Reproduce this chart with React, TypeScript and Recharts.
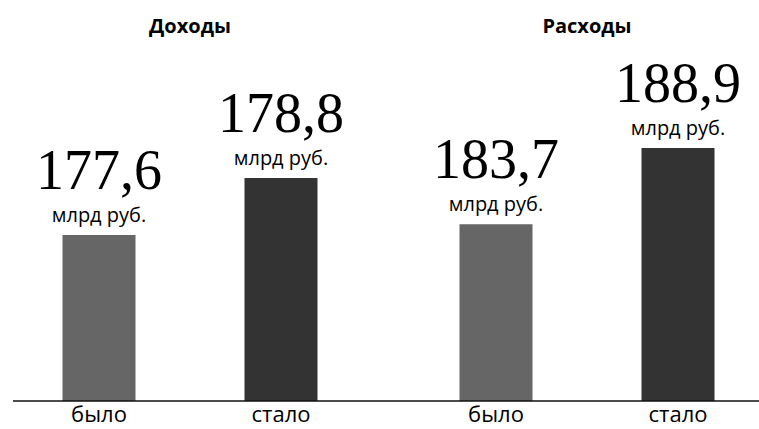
import React from 'react';
import { BarChart, Bar, XAxis, YAxis, LabelList, ReferenceLine } from 'recharts';

// Categories (group titles)
const categories = ['Доходы', 'Расходы'];
// Series names (labels under the bars)
const seriesNames = ['было', 'стало'];
// Values printed above the bars, billion rubles
const beforeValues = [177.6, 183.7];
const afterValues = [178.8, 188.9];
// Bar heights as drawn in the picture (infographic, not to value scale), 0–100 scale
const beforeBarLevel = [47.0, 50.1];
const afterBarLevel = [63.2, 71.7];
const unitLabel = 'млрд руб.';

const data = categories.map((c, i) => ({
  name: c,
  before: beforeBarLevel[i],
  after: afterBarLevel[i],
}));

const fmt = (v: number) => v.toFixed(1).replace('.', ',');

const makeLabel = (values: number[], seriesName: string) => (props: any) => {
  const { x, y, width, height, index } = props;
  const cx = Number(x) + Number(width) / 2;
  const top = Number(y);
  const bottom = Number(y) + Number(height);
  return (
    <g>
      <text
        x={cx}
        y={top - 46}
        textAnchor="middle"
        fontFamily="'Liberation Serif', 'DejaVu Serif', serif"
        fontSize={56}
        fill="#000"
      >
        {fmt(values[index])}
      </text>
      <text
        x={cx}
        y={top - 13}
        textAnchor="middle"
        fontFamily="'Open Sans', sans-serif"
        fontSize={20}
        fill="#000"
      >
        {unitLabel}
      </text>
      <text
        x={cx}
        y={bottom + 21}
        textAnchor="middle"
        fontFamily="'Open Sans', sans-serif"
        fontSize={22}
        fill="#000"
      >
        {seriesName}
      </text>
    </g>
  );
};

export default function App() {
  return (
    <div style={{ position: 'absolute', left: 0, top: 0, width: 759, height: 429, background: '#fff', overflow: 'hidden' }}>
      <BarChart
        width={759}
        height={429}
        data={data}
        margin={{ top: 0, right: 0, bottom: 28, left: 13 }}
        barSize={73}
        barGap={109}
      >
        <XAxis
          orientation="top"
          dataKey="name"
          height={48}
          axisLine={false}
          tickLine={false}
          tickSize={0}
          tickMargin={15}
          padding={{ left: -21.5, right: -26.5 }}
          tick={{ fill: '#000', fontSize: 20, fontWeight: 700, fontFamily: "'Open Sans', sans-serif" }}
        />
        <YAxis hide domain={[0, 100]} />
        <Bar dataKey="before" fill="#666666" isAnimationActive={false}>
          <LabelList dataKey="before" content={makeLabel(beforeValues, seriesNames[0])} />
        </Bar>
        <Bar dataKey="after" fill="#333333" isAnimationActive={false}>
          <LabelList dataKey="after" content={makeLabel(afterValues, seriesNames[1])} />
        </Bar>
        <ReferenceLine y={0} stroke="#111" strokeWidth={1.5} ifOverflow="visible" />
      </BarChart>
    </div>
  );
}
